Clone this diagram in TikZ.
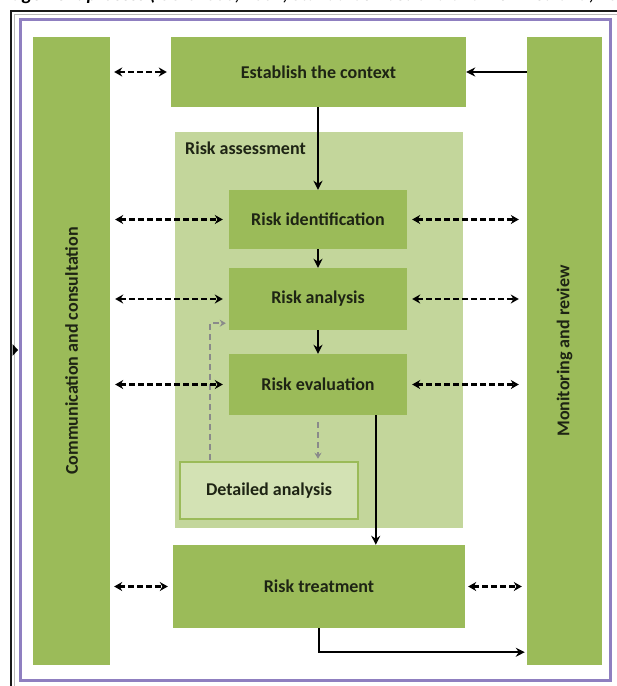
\documentclass[tikz,border=0pt]{standalone}
\usepackage{fontspec}
\setmainfont{Carlito}
\usetikzlibrary{arrows.meta,calc}
\definecolor{midgreen}{HTML}{9BBB59}
\definecolor{lightgreen}{HTML}{C3D69B}
\definecolor{palegreen}{HTML}{D3E2B4}
\definecolor{framepurple}{HTML}{8F7FC0}
\definecolor{txtdark}{HTML}{1E2414}
\definecolor{grayarr}{HTML}{8A8A8A}
\begin{document}
\begin{tikzpicture}[x=1pt,y=-1pt,
  lbl/.style={font=\fontsize{18}{20}\selectfont\bfseries, text=txtdark},
  blk/.style={fill=midgreen, draw=none, inner sep=0pt, lbl},
  dda/.style={line width=2.6pt, dash pattern=on 6pt off 3pt,
    {Stealth[length=8pt,width=9pt]}-{Stealth[length=8pt,width=9pt]}},
  sol/.style={line width=2pt, -{Stealth[length=9pt,width=9pt]}},
  gda/.style={grayarr, line width=2.2pt, dash pattern=on 6pt off 4pt,
    -{Stealth[length=6pt,width=7pt]}}]
\useasboundingbox (0,0) rectangle (617,686);
% cut-off caption at the top
\node[anchor=base west, inner sep=0pt, font=\fontsize{19}{21}\selectfont\bfseries\itshape] (ttl) at (12,0.5)
  {agement process (ISO 31000, 2009; Standards Australia and New Zealand, 2009, p. 14)};
% outer frame
\draw[line width=1.8pt, black!90] (11,686) -- (11,11) -- (617,11);
\draw[line width=1.5pt, gray!55] (14.5,686) -- (14.5,14.5) -- (617,14.5);
\fill[black] (12.5,344) -- (18,350) -- (12.5,356) -- cycle;
\draw[framepurple, line width=3pt] (20,19.5) rectangle (610,680);
% side columns
\node[blk, minimum width=77pt, minimum height=628pt] (colL) at (71.5,351)
  {\rotatebox{90}{Communication and consultation}};
\node[blk, minimum width=75pt, minimum height=628pt] (colR) at (564.5,351)
  {\rotatebox{90}{Monitoring and review}};
% main boxes
\node[blk, minimum width=295pt, minimum height=70pt] (est) at (318.5,72) {Establish the context};
\node[fill=lightgreen, inner sep=0pt, minimum width=288pt, minimum height=396pt] (ra) at (319,330) {};
\node[lbl, anchor=west, inner sep=0pt] (ral) at (185,148) {Risk assessment};
\node[blk, minimum width=178pt, minimum height=59pt] (idf) at (318,219.5) {Risk identification};
\node[blk, minimum width=178pt, minimum height=62pt] (ana) at (318,299) {Risk analysis};
\node[blk, minimum width=178pt, minimum height=61pt] (eva) at (318,384.5) {Risk evaluation};
\node[lbl, fill=palegreen, draw=midgreen, line width=2.5pt, inner sep=0pt,
  minimum width=178pt, minimum height=57pt] (det) at (269,490.5) {Detailed analysis};
\node[blk, minimum width=292pt, minimum height=83pt] (trt) at (319,586.5) {Risk treatment};
% solid flow arrows
\draw[sol] (colR.west |- est) -- (est.east);
\draw[sol] (idf.north |- est.south) -- (idf.north);
\draw[sol] (idf.south) -- (ana.north);
\draw[sol] (ana.south) -- (eva.north);
\coordinate (evx) at ($(eva.south west)+(147,0)$);
\draw[sol] (evx) -- (evx |- trt.north);
\coordinate (tb) at ($(trt.south)+(0,24)$);
\draw[sol] (trt.south) -- (tb) -- ($(tb -| colR.west)+(-2,0)$);
% grey dashed arrows
\draw[gda] ($(det.north west)+(31,-1)$) |- ($(ana.south west)+(-3,-7)$);
\draw[gda] ($(eva.south)+(0,7)$) -- ($(det.north -| eva.south)+(0,-2)$);
% dashed double arrows, left
\draw[dda] ($(colL.east |- est)+(4,0)$) -- ($(est.west)+(-4,0)$);
\draw[dda] ($(colL.east |- idf)+(5,0)$) -- ($(idf.west)+(-6,0)$);
\draw[dda] ($(colL.east |- ana)+(5,0)$) -- ($(ana.west)+(-6,0)$);
\draw[dda] ($(colL.east |- eva)+(5,0)$) -- ($(eva.west)+(-6,0)$);
\draw[dda] ($(colL.east |- trt)+(4,0)$) -- ($(trt.west)+(-5,0)$);
% dashed double arrows, right
\draw[dda] ($(idf.east)+(5,0)$) -- ($(colR.west |- idf)+(-8,0)$);
\draw[dda] ($(ana.east)+(5,0)$) -- ($(colR.west |- ana)+(-8,0)$);
\draw[dda] ($(eva.east)+(5,0)$) -- ($(colR.west |- eva)+(-8,0)$);
\draw[dda] ($(trt.east)+(3,0)$) -- ($(colR.west |- trt)+(-5,0)$);
\end{tikzpicture}
\end{document}
